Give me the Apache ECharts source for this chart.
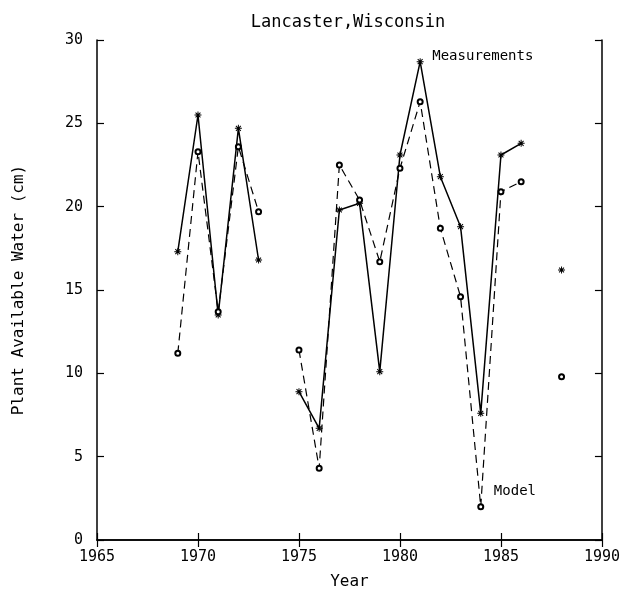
<!DOCTYPE html>
<html>
<head>
<meta charset="utf-8">
<script src="https://cdn.jsdelivr.net/npm/echarts@6/dist/echarts.min.js"></script>
<style>
  html, body { margin: 0; padding: 0; background: #fff; }
  #chart { width: 623px; height: 595px; }
</style>
</head>
<body>
<div id="chart"></div>
<script>
// years, with gaps in 1974 and 1987
const years = [1969, 1970, 1971, 1972, 1973, 1974, 1975, 1976, 1977, 1978, 1979, 1980, 1981, 1982, 1983, 1984, 1985, 1986, 1987, 1988];
const measured = [17.3, 25.5, 13.5, 24.7, 16.8, null, 8.9, 6.7, 19.8, 20.2, 10.1, 23.1, 28.7, 21.8, 18.8, 7.6, 23.1, 23.8, null, 16.2];
const model = [11.2, 23.3, 13.7, 23.6, 19.7, null, 11.4, 4.3, 22.5, 20.4, 16.7, 22.3, 26.3, 18.7, 14.6, 2.0, 20.9, 21.5, null, 9.8];
const xTicks = [1965, 1970, 1975, 1980, 1985, 1990];
const yTicks = [0, 5, 10, 15, 20, 25, 30];

const font = "DejaVu Sans Mono";
const toPairs = (vals) => years.map((y, i) => [y, vals[i] === null ? '-' : vals[i]]);

// small asterisk marker
const star = 'path://M-0.7,-5h1.4v10h-1.4z M-5,-0.7h10v1.4h-10z M-4,-3l1,-1l7,7l-1,1z M3,-4l1,1l-7,7l-1,-1z';

const chart = echarts.init(document.getElementById('chart'));
const tickStyle = { inside: true, length: 7, lineStyle: { color: '#000', width: 1.2 } };
chart.setOption({
  animation: false,
  title: {
    text: 'Lancaster,Wisconsin',
    left: 343, top: 9, textAlign: 'center',
    textStyle: { fontFamily: font, fontSize: 17, fontWeight: 'normal', color: '#000' }
  },
  grid: { left: 97, right: 20, top: 40, bottom: 55 },
  xAxis: [{
    type: 'value', min: 1965, max: 1990, interval: 5,
    name: 'Year', nameLocation: 'middle', nameGap: 34,
    nameTextStyle: { fontFamily: font, fontSize: 16, color: '#000' },
    axisLine: { lineStyle: { color: '#000', width: 1.5 } },
    axisTick: tickStyle,
    axisLabel: { fontFamily: font, fontSize: 15, color: '#000', margin: 10,
      formatter: (v) => xTicks.includes(v) ? String(v) : '' },
    splitLine: { show: false }
  }, {
    type: 'value', position: 'top', min: 1965, max: 1990, interval: 5,
    axisLine: { lineStyle: { color: '#000', width: 1.5 } },
    axisTick: tickStyle, axisLabel: { show: false }, splitLine: { show: false }
  }],
  yAxis: [{
    type: 'value', min: 0, max: 30, interval: 5,
    name: 'Plant Available Water (cm)', nameLocation: 'middle', nameGap: 70,
    nameTextStyle: { fontFamily: font, fontSize: 16, color: '#000' },
    axisLine: { lineStyle: { color: '#000', width: 1.5 } },
    axisTick: tickStyle,
    axisLabel: { fontFamily: font, fontSize: 15, color: '#000', margin: 14,
      formatter: (v) => yTicks.includes(v) ? String(v) : '' },
    splitLine: { show: false }
  }, {
    type: 'value', position: 'right', min: 0, max: 30, interval: 5,
    axisLine: { lineStyle: { color: '#000', width: 1.5 } },
    axisTick: tickStyle, axisLabel: { show: false }, splitLine: { show: false }
  }],
  series: [{
    name: 'Measurements', type: 'line', data: toPairs(measured),
    connectNulls: false, showAllSymbol: true, symbol: star, symbolSize: 7,
    lineStyle: { color: '#000', width: 1.5 },
    itemStyle: { color: '#000' },
    markPoint: {
      symbol: 'circle', symbolSize: 0,
      label: { show: true, position: 'right', distance: 2, formatter: 'Measurements',
        fontFamily: font, fontSize: 14, color: '#000' },
      data: [{ coord: [1981.5, 29.0] }]
    }
  }, {
    name: 'Model', type: 'line', data: toPairs(model),
    connectNulls: false, showAllSymbol: true, symbol: 'emptyCircle', symbolSize: 5,
    lineStyle: { color: '#000', width: 1.2, type: [8, 5] },
    itemStyle: { color: '#000', borderWidth: 1.2 },
    markPoint: {
      symbol: 'circle', symbolSize: 0,
      label: { show: true, position: 'right', distance: 2, formatter: 'Model',
        fontFamily: font, fontSize: 14, color: '#000' },
      data: [{ coord: [1984.55, 2.9] }]
    }
  }]
});
</script>
</body>
</html>
